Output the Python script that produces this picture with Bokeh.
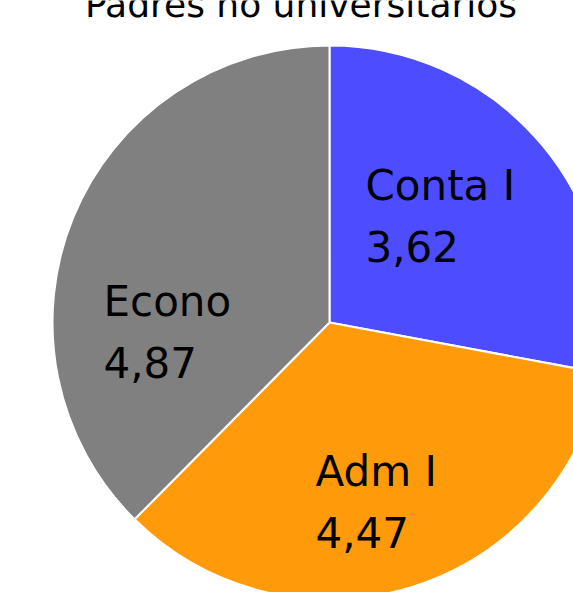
import math
from bokeh.plotting import figure
from bokeh.models import ColumnDataSource, Range1d
from bokeh.core.properties import value
from bokeh.embed import file_html
from bokeh.resources import INLINE

# ---- data ----
title_text = "Padres no universitarios"
categories = ["Conta I", "Adm I", "Econo"]
values = [3.62, 4.47, 4.87]
colors = ["#4d4dff", "#ff9b0b", "#808080"]

# ---- layout (pixel units, pie centre at 0,0) ----
CX, CY = 329, 322          # pie centre in the page
R = 277
label_pos = {"Conta I": (36, 120), "Adm I": (-14, -166), "Econo": (-226, 4)}
line_gap = 61
FONT = "DejaVu Sans"
LABEL_FS = 42
TITLE_FS = 36
SHIFT = 0.4                # baseline correction (fraction of font size)

total = sum(values)
starts, ends = [], []
cum = 0.0
for v in values:
    a0 = cum / total * 2 * math.pi
    cum += v
    a1 = cum / total * 2 * math.pi
    # clockwise from 12 o'clock
    starts.append(math.pi / 2 - a1)
    ends.append(math.pi / 2 - a0)

src = ColumnDataSource(dict(cat=categories, val=values, color=colors,
                            start=starts, end=ends))

W, H = 573, 592
p = figure(width=W, height=H, output_backend="svg", toolbar_location=None,
           x_axis_location=None, y_axis_location=None, min_border=0,
           x_range=Range1d(-CX, -CX + W),
           y_range=Range1d(CY - H, CY))
p.grid.visible = False
p.outline_line_color = None
p.background_fill_color = "white"
p.border_fill_color = "white"

p.wedge(x=0, y=0, radius=R, start_angle="start", end_angle="end",
        direction="anticlock", fill_color="color", line_color="white",
        line_width=2, source=src)

sh = SHIFT * LABEL_FS
lx = [label_pos[c][0] for c in categories]
ly1 = [label_pos[c][1] + sh for c in categories]
ly2 = [label_pos[c][1] - line_gap + sh for c in categories]
val_txt = [("%.2f" % v).replace(".", ",") for v in values]
p.text(x=lx, y=ly1, text=categories, text_font=value(FONT),
       text_font_size="%dpx" % LABEL_FS, text_align="left",
       text_baseline="alphabetic", text_color="black")
p.text(x=lx, y=ly2, text=val_txt, text_font=value(FONT),
       text_font_size="%dpx" % LABEL_FS, text_align="left",
       text_baseline="alphabetic", text_color="black")

p.text(x=[-28.5], y=[304 + SHIFT * TITLE_FS], text=[title_text],
       text_font=value(FONT), text_font_size="%dpx" % TITLE_FS,
       text_align="center", text_baseline="alphabetic", text_color="black")

open("out.html", "w").write(file_html(p, INLINE))
